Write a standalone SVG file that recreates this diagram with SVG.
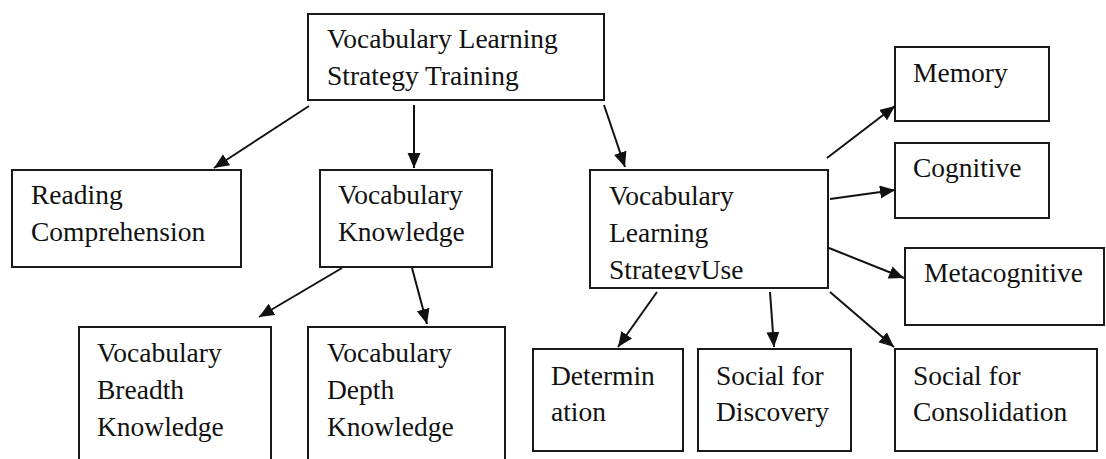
<svg xmlns="http://www.w3.org/2000/svg" width="1106" height="459" viewBox="0 0 1106 459">
  <style>
    .box { fill: #ffffff; stroke: #1a1a1a; stroke-width: 2; }
    .lbl { font-family: "Liberation Serif", "Times New Roman", serif; font-size: 27.5px; fill: #111111; }
    .edge { stroke: #111111; stroke-width: 2; fill: none; marker-end: url(#head); }
  </style>
  <defs>
    <marker id="head" markerUnits="userSpaceOnUse" markerWidth="16" markerHeight="14" refX="15" refY="6.5" orient="auto">
      <path d="M0,0 L15,6.5 L0,13 Z" fill="#111111"/>
    </marker>
    <clipPath id="useClip">
      <rect x="590" y="170" width="238" height="109.5"/>
    </clipPath>
  </defs>
  <rect width="1106" height="459" fill="#ffffff"/>

  <g id="training">
    <rect class="box" x="308" y="14" width="296" height="86"/>
    <text class="lbl" x="327" y="47.5">Vocabulary Learning</text>
    <text class="lbl" x="327" y="84.5">Strategy Training</text>
  </g>

  <g id="reading">
    <rect class="box" x="12" y="170" width="229" height="97"/>
    <text class="lbl" x="31" y="204">Reading</text>
    <text class="lbl" x="31" y="241">Comprehension</text>
  </g>

  <g id="knowledge">
    <rect class="box" x="320" y="170" width="172" height="97"/>
    <text class="lbl" x="338" y="204">Vocabulary</text>
    <text class="lbl" x="338" y="241">Knowledge</text>
  </g>

  <g id="strategy-use">
    <rect class="box" x="590" y="170" width="238" height="118"/>
    <g clip-path="url(#useClip)">
      <text class="lbl" x="609" y="205">Vocabulary</text>
      <text class="lbl" x="609" y="241.5">Learning</text>
      <text class="lbl" x="609" y="278.5">StrategyUse</text>
    </g>
  </g>

  <g id="memory">
    <rect class="box" x="895" y="47" width="154" height="74"/>
    <text class="lbl" x="913" y="82">Memory</text>
  </g>

  <g id="cognitive">
    <rect class="box" x="895" y="143" width="154" height="75"/>
    <text class="lbl" x="913" y="177">Cognitive</text>
  </g>

  <g id="metacognitive">
    <rect class="box" x="905" y="248" width="199" height="77"/>
    <text class="lbl" x="924" y="282">Metacognitive</text>
  </g>

  <g id="breadth">
    <rect class="box" x="79" y="327" width="192" height="150"/>
    <text class="lbl" x="97" y="361.5">Vocabulary</text>
    <text class="lbl" x="97" y="398.5">Breadth</text>
    <text class="lbl" x="97" y="435.5">Knowledge</text>
  </g>

  <g id="depth">
    <rect class="box" x="308" y="327" width="197" height="150"/>
    <text class="lbl" x="327" y="361.5">Vocabulary</text>
    <text class="lbl" x="327" y="398.5">Depth</text>
    <text class="lbl" x="327" y="435.5">Knowledge</text>
  </g>

  <g id="determination">
    <rect class="box" x="533" y="349" width="150" height="102"/>
    <text class="lbl" x="551" y="385">Determin</text>
    <text class="lbl" x="551" y="421">ation</text>
  </g>

  <g id="social-discovery">
    <rect class="box" x="698" y="349" width="153" height="102"/>
    <text class="lbl" x="716" y="385">Social for</text>
    <text class="lbl" x="716" y="421">Discovery</text>
  </g>

  <g id="social-consolidation">
    <rect class="box" x="895" y="349" width="202" height="102"/>
    <text class="lbl" x="913" y="385">Social for</text>
    <text class="lbl" x="913" y="421">Consolidation</text>
  </g>

  <g id="connectors">
    <line class="edge" x1="309" y1="106" x2="214" y2="168"/>
    <line class="edge" x1="414" y1="105" x2="414" y2="168"/>
    <line class="edge" x1="604" y1="105" x2="625" y2="167"/>
    <line class="edge" x1="342" y1="268" x2="259" y2="317"/>
    <line class="edge" x1="412" y1="268" x2="427" y2="324"/>
    <line class="edge" x1="827" y1="158" x2="895" y2="106"/>
    <line class="edge" x1="830" y1="199" x2="895" y2="190"/>
    <line class="edge" x1="829" y1="248" x2="904" y2="278"/>
    <line class="edge" x1="657" y1="292" x2="618" y2="347"/>
    <line class="edge" x1="770" y1="292" x2="774" y2="347"/>
    <line class="edge" x1="830" y1="292" x2="894" y2="347"/>
  </g>
</svg>
